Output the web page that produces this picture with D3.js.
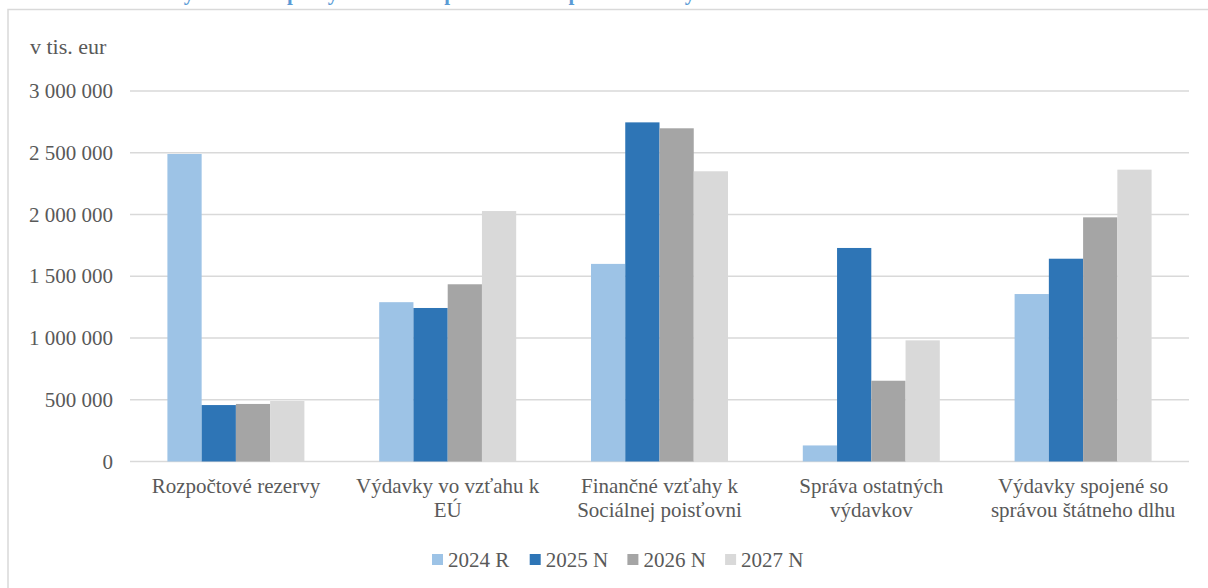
<!DOCTYPE html>
<html>
<head>
<meta charset="utf-8">
<script src="https://cdn.jsdelivr.net/npm/d3@7"></script>
<style>
  body { margin: 0; background: #fff; }
  text { font-family: "Liberation Serif", "Times New Roman", serif; }
</style>
</head>
<body>
<script>
// categories (line breaks as in the original labels)
var categories = [
  "Rozpočtové rezervy",
  "Výdavky vo vzťahu k\nEÚ",
  "Finančné vzťahy k\nSociálnej poisťovni",
  "Správa ostatných\nvýdavkov",
  "Výdavky spojené so\nsprávou štátneho dlhu"
];
var seriesNames = ["2024 R", "2025 N", "2026 N", "2027 N"];

// v tis. eur
var values2024 = [2490000, 1290000, 1600000, 130000, 1356000];
var values2025 = [457000, 1243000, 2746000, 1729000, 1642000];
var values2026 = [466000, 1435000, 2698000, 654000, 1977000];
var values2027 = [490000, 2028000, 2350000, 981000, 2363000];

var yTicks = [0, 500000, 1000000, 1500000, 2000000, 2500000, 3000000];

var colors = ["#9dc3e6", "#2e75b6", "#a5a5a5", "#d9d9d9"];
var allValues = [values2024, values2025, values2026, values2027];

var W = 1208, H = 588;
var plot = {left: 130, right: 1189, top: 91, bottom: 461.5};

var svg = d3.select("body").append("svg")
    .attr("width", W)
    .attr("height", H);

// title, cut off at the top of the picture (only its lowest part shows)
svg.append("text")
    .attr("x", 14)
    .attr("y", 0)
    .style("font-size", "21px")
    .style("font-weight", "bold")
    .style("fill", "#5b9bd5")
    .text("Graf 5 Štruktúra výdavkov kapitoly Všeobecná pokladničná správa na roky 2025 – 2027");

// chart frame
svg.append("rect")
    .attr("x", 8)
    .attr("y", 9.5)
    .attr("width", 1230)
    .attr("height", 600)
    .attr("fill", "#fff")
    .attr("stroke", "#d9d9d9")
    .attr("stroke-width", 1.5);

var x0 = d3.scaleBand()
    .domain(categories)
    .range([plot.left, plot.right]);

var groupW = 137;
var x1 = d3.scaleBand()
    .domain(seriesNames)
    .range([(x0.bandwidth() - groupW) / 2, (x0.bandwidth() + groupW) / 2]);

var y = d3.scaleLinear()
    .domain([0, 3000000])
    .range([plot.bottom, plot.top]);

var fmt = function(d) { return d3.format(",")(d).replace(/,/g, " "); };

// gridlines
svg.append("g")
  .selectAll("line")
    .data(yTicks)
  .enter().append("line")
    .attr("x1", plot.left)
    .attr("x2", plot.right)
    .attr("y1", function(d) { return y(d); })
    .attr("y2", function(d) { return y(d); })
    .attr("stroke", "#d9d9d9")
    .attr("stroke-width", 1.6);

// y axis labels
var yAxis = svg.append("g")
    .attr("transform", "translate(" + (plot.left - 14) + ",0)")
    .call(d3.axisLeft(y).tickValues(yTicks).tickFormat(fmt).tickSize(0));
yAxis.select(".domain").remove();
yAxis.selectAll("text")
    .style("font-family", "Liberation Serif, serif")
    .style("font-size", "21px")
    .style("fill", "#595959");

svg.append("text")
    .attr("x", 30)
    .attr("y", 54)
    .style("font-size", "22px")
    .style("fill", "#595959")
    .text("v tis. eur");

// bars
var groups = svg.append("g")
  .selectAll("g")
    .data(categories)
  .enter().append("g")
    .attr("transform", function(d) { return "translate(" + x0(d) + ",0)"; });

groups.selectAll("rect")
    .data(function(d, i) {
      return seriesNames.map(function(s, j) { return {series: s, value: allValues[j][i], color: colors[j]}; });
    })
  .enter().append("rect")
    .attr("x", function(d) { return x1(d.series); })
    .attr("width", x1.bandwidth())
    .attr("y", function(d) { return y(d.value); })
    .attr("height", function(d) { return y(0) - y(d.value); })
    .attr("fill", function(d) { return d.color; });

// category labels
svg.append("g")
  .selectAll("text")
    .data(categories)
  .enter().append("text")
    .attr("x", function(d) { return x0(d) + x0.bandwidth() / 2; })
    .attr("y", 493)
    .attr("text-anchor", "middle")
    .style("font-size", "21px")
    .style("fill", "#595959")
    .each(function(d) {
      var t = d3.select(this);
      d.split("\n").forEach(function(line, i) {
        t.append("tspan")
          .attr("x", x0(d) + x0.bandwidth() / 2)
          .attr("dy", i === 0 ? 0 : 23.5)
          .text(line);
      });
    });

// legend
var legendStep = 97.7;
var legend = svg.append("g")
    .attr("transform", "translate(432,0)")
  .selectAll("g")
    .data(seriesNames)
  .enter().append("g")
    .attr("transform", function(d, i) { return "translate(" + (i * legendStep) + ",0)"; });

legend.append("rect")
    .attr("y", 554)
    .attr("width", 11)
    .attr("height", 11)
    .attr("fill", function(d, i) { return colors[i]; });

legend.append("text")
    .attr("x", 16)
    .attr("y", 567)
    .style("font-size", "21px")
    .style("fill", "#595959")
    .text(function(d) { return d; });
</script>
</body>
</html>
